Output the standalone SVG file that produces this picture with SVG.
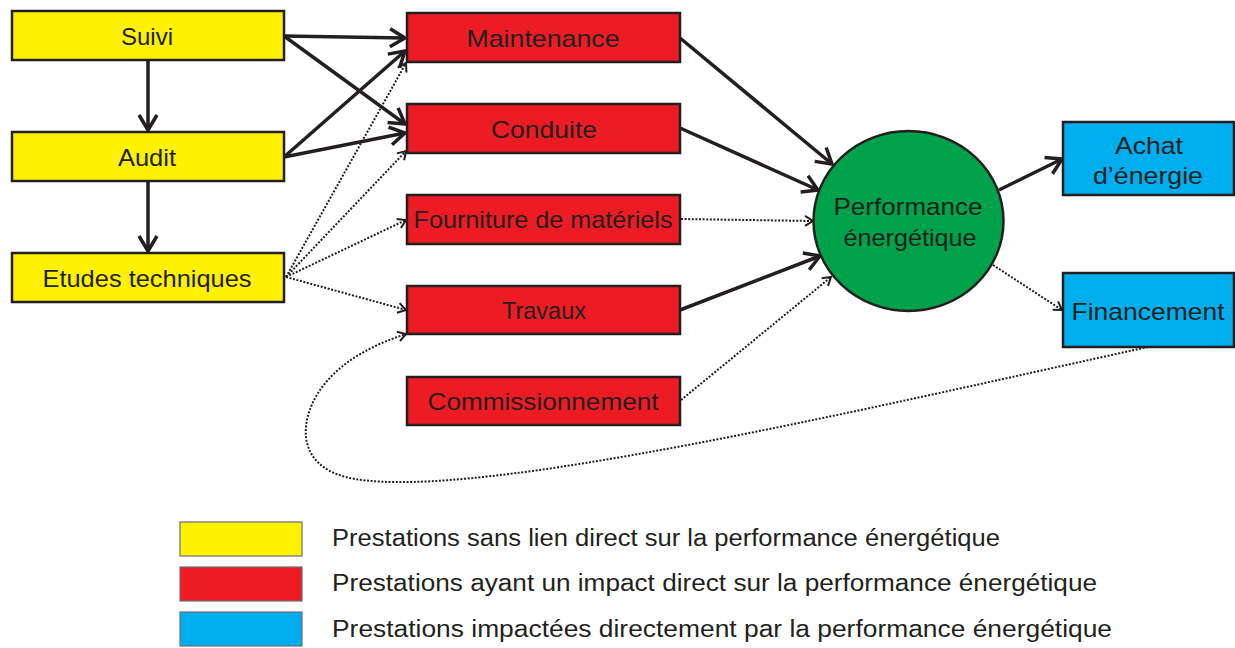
<svg xmlns="http://www.w3.org/2000/svg" width="1235" height="648" viewBox="0 0 1235 648">
  <style>
    .box { stroke: #231F20; stroke-width: 2.5; }
    .yellow { fill: #FFF200; }
    .red { fill: #ED1C24; }
    .blue { fill: #00AEEF; }
    .green { fill: #00A14B; }
    .lbl { font-family: "Liberation Sans", "DejaVu Sans", sans-serif; font-size: 24px; fill: #231F20; text-anchor: middle; }
    .leg { font-family: "Liberation Sans", "DejaVu Sans", sans-serif; font-size: 23px; fill: #231F20; }
    .solid { fill: none; stroke: #231F20; stroke-width: 3.5; marker-end: url(#head); }
    .dot { fill: none; stroke: #231F20; stroke-width: 2; stroke-dasharray: 2 1.6; marker-end: url(#headSmall); }
    .legbox { stroke: #6D6E71; stroke-width: 1.2; }
  </style>
  <defs>
    <marker id="head" markerUnits="userSpaceOnUse" markerWidth="24" markerHeight="24" viewBox="-18 -12 24 24" refX="0" refY="0" orient="auto" overflow="visible">
      <path d="M-15,-9 L0,0 L-15,9" fill="none" stroke="#231F20" stroke-width="3.5" stroke-linejoin="miter"/>
    </marker>
    <marker id="headSmall" markerUnits="userSpaceOnUse" markerWidth="14" markerHeight="14" viewBox="-10 -7 14 14" refX="0" refY="0" orient="auto" overflow="visible">
      <path d="M-8,-5 L0,0 L-8,5" fill="none" stroke="#231F20" stroke-width="2"/>
    </marker>
  </defs>

  <!-- connectors -->
  <g id="connectors">
    <path class="solid" d="M148,60 L148,130"/>
    <path class="solid" d="M148,181 L148,251"/>
    <path class="solid" d="M284,36 L405,38"/>
    <path class="solid" d="M284,36 L405,124"/>
    <path class="solid" d="M284,157 L405,51"/>
    <path class="solid" d="M284,157 L405,133"/>
    <path class="dot" d="M286,277 L406,63"/>
    <path class="dot" d="M286,277 L406,151"/>
    <path class="dot" d="M286,277 L406,220"/>
    <path class="dot" d="M286,277 L406,310"/>
    <path class="solid" d="M680,38 L832,164"/>
    <path class="solid" d="M680,128 L818,190"/>
    <path class="dot" d="M681,219 L813,221"/>
    <path class="solid" d="M680,310 L820,256"/>
    <path class="dot" d="M681,400 L831,277"/>
    <path class="solid" d="M999,190 L1062,159"/>
    <path class="dot" d="M993,265 L1062,310"/>
    <path class="dot" d="M1148,347 C 860,410 480,500 355,479 C 302,470 298,432 314,400 C 333,364 372,345 406,334"/>
  </g>

  <!-- yellow nodes -->
  <g id="suivi">
    <rect class="box yellow" x="12" y="11" width="272" height="49"/>
    <text class="lbl" x="147" y="45">Suivi</text>
  </g>
  <g id="audit">
    <rect class="box yellow" x="12" y="132" width="272" height="49"/>
    <text class="lbl" x="147" y="166" textLength="58" lengthAdjust="spacingAndGlyphs">Audit</text>
  </g>
  <g id="etudes">
    <rect class="box yellow" x="12" y="253" width="272" height="49"/>
    <text class="lbl" x="147" y="287" textLength="209" lengthAdjust="spacingAndGlyphs">Etudes techniques</text>
  </g>

  <!-- red nodes -->
  <g id="maintenance">
    <rect class="box red" x="407" y="13" width="273" height="49"/>
    <text class="lbl" x="543" y="47" textLength="153" lengthAdjust="spacingAndGlyphs">Maintenance</text>
  </g>
  <g id="conduite">
    <rect class="box red" x="407" y="104" width="273" height="49"/>
    <text class="lbl" x="544" y="138" textLength="106" lengthAdjust="spacingAndGlyphs">Conduite</text>
  </g>
  <g id="fourniture">
    <rect class="box red" x="407" y="195" width="273" height="49"/>
    <text class="lbl" x="543" y="228" textLength="259" lengthAdjust="spacingAndGlyphs">Fourniture de matériels</text>
  </g>
  <g id="travaux">
    <rect class="box red" x="407" y="286" width="273" height="48"/>
    <text class="lbl" x="544" y="319" textLength="84" lengthAdjust="spacingAndGlyphs">Travaux</text>
  </g>
  <g id="commissionnement">
    <rect class="box red" x="407" y="377" width="273" height="48"/>
    <text class="lbl" x="543" y="410" textLength="231" lengthAdjust="spacingAndGlyphs">Commissionnement</text>
  </g>

  <!-- central node -->
  <g id="performance">
    <ellipse class="box green" cx="908.5" cy="221" rx="95" ry="90"/>
    <text class="lbl" x="908" y="215" textLength="149" lengthAdjust="spacingAndGlyphs">Performance</text>
    <text class="lbl" x="910" y="246" textLength="133" lengthAdjust="spacingAndGlyphs">énergétique</text>
  </g>

  <!-- blue nodes -->
  <g id="achat">
    <rect class="box blue" x="1063" y="122" width="171" height="73"/>
    <text class="lbl" x="1149" y="154" textLength="68" lengthAdjust="spacingAndGlyphs">Achat</text>
    <text class="lbl" x="1148" y="184" textLength="110" lengthAdjust="spacingAndGlyphs">d’énergie</text>
  </g>
  <g id="financement">
    <rect class="box blue" x="1063" y="273" width="171" height="74"/>
    <text class="lbl" x="1148" y="320" textLength="153" lengthAdjust="spacingAndGlyphs">Financement</text>
  </g>

  <!-- legend -->
  <g id="legend">
    <rect class="legbox yellow" x="180" y="522" width="122" height="34"/>
    <rect class="legbox red" x="180" y="567" width="122" height="34"/>
    <rect class="legbox blue" x="180" y="612" width="122" height="34"/>
    <text class="leg" x="332" y="546" textLength="668" lengthAdjust="spacingAndGlyphs">Prestations sans lien direct sur la performance énergétique</text>
    <text class="leg" x="332" y="591" textLength="765" lengthAdjust="spacingAndGlyphs">Prestations ayant un impact direct sur la performance énergétique</text>
    <text class="leg" x="332" y="637" textLength="780" lengthAdjust="spacingAndGlyphs">Prestations impactées directement par la performance énergétique</text>
  </g>
</svg>
